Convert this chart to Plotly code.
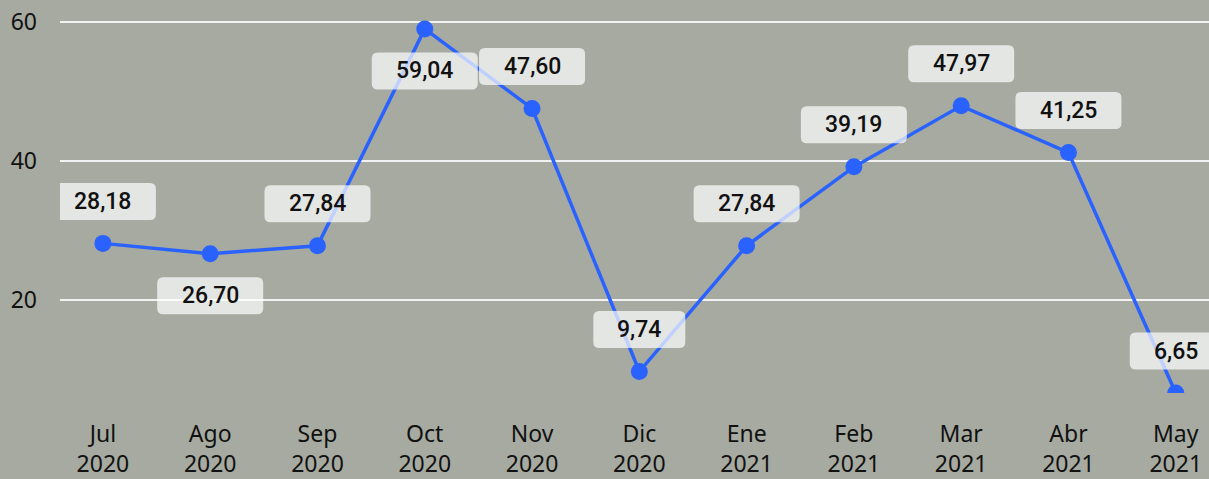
import plotly.graph_objects as go

# monthly values (Jul 2020 - May 2021)
months = ["Jul", "Ago", "Sep", "Oct", "Nov", "Dic", "Ene", "Feb", "Mar", "Abr", "May"]
years = ["2020", "2020", "2020", "2020", "2020", "2020", "2021", "2021", "2021", "2021", "2021"]
values = [28.18, 26.70, 27.84, 59.04, 47.60, 9.74, 27.84, 39.19, 47.97, 41.25, 6.65]

# where each data label sits relative to its point
label_side = ["above", "below", "above", "below", "above", "above",
              "above", "above", "above", "above", "above"]

bg = "#a6aaa0"
line_color = "#2962ff"

categories = [f"{m}<br>{y}" for m, y in zip(months, years)]
x_idx = list(range(len(values)))

fig = go.Figure()
fig.add_trace(go.Scatter(
    x=x_idx, y=values,
    mode="lines+markers",
    line=dict(color=line_color, width=3.5),
    marker=dict(color=line_color, size=17),
    hoverinfo="skip",
))

def rounded_box(w, h, cy, r=6):
    # path in pixels relative to the anchor point (y up)
    x0, x1 = -w / 2, w / 2
    y0, y1 = cy - h / 2, cy + h / 2
    return (f"M {x0 + r},{y0} L {x1 - r},{y0} Q {x1},{y0} {x1},{y0 + r} "
            f"L {x1},{y1 - r} Q {x1},{y1} {x1 - r},{y1} "
            f"L {x0 + r},{y1} Q {x0},{y1} {x0},{y1 - r} "
            f"L {x0},{y0 + r} Q {x0},{y0} {x0 + r},{y0} Z")

for i, v in enumerate(values):
    txt = f"{v:.2f}".replace(".", ",")
    off = 42 if label_side[i] == "above" else -42
    w = 36 + 14 * len(txt)
    fig.add_shape(
        type="path", xref="x", yref="y",
        xsizemode="pixel", ysizemode="pixel",
        xanchor=i, yanchor=v,
        path=rounded_box(w, 37, off),
        fillcolor="rgba(255,255,255,0.7)",
        line=dict(width=0),
        layer="above",
    )
    fig.add_annotation(
        x=i, y=v, xref="x", yref="y",
        text=txt, showarrow=False, yshift=off,
        font=dict(family="Roboto", size=23, color="#111111", weight=500),
    )

fig.update_layout(
    width=1209, height=479,
    margin=dict(l=60, r=0, t=0, b=86),
    paper_bgcolor=bg, plot_bgcolor=bg,
    showlegend=False,
    xaxis=dict(
        tickmode="array", tickvals=x_idx, ticktext=categories,
        range=[-0.4, 10.31], showgrid=False, zeroline=False, showline=False,
        tickfont=dict(family="Noto Sans", size=23, color="#111111"),
        ticklabelstandoff=25,
    ),
    yaxis=dict(
        range=[6.65, 63.2], tickvals=[20, 40, 60],
        showgrid=True, gridcolor="#f2f2f2", gridwidth=2,
        zeroline=False, showline=False,
        tickfont=dict(family="Noto Sans", size=23, color="#111111"),
        ticklabelstandoff=22,
    ),
)

fig.write_html("out.html", config={"displayModeBar": False},
               post_script="document.body.style.margin='0';")
